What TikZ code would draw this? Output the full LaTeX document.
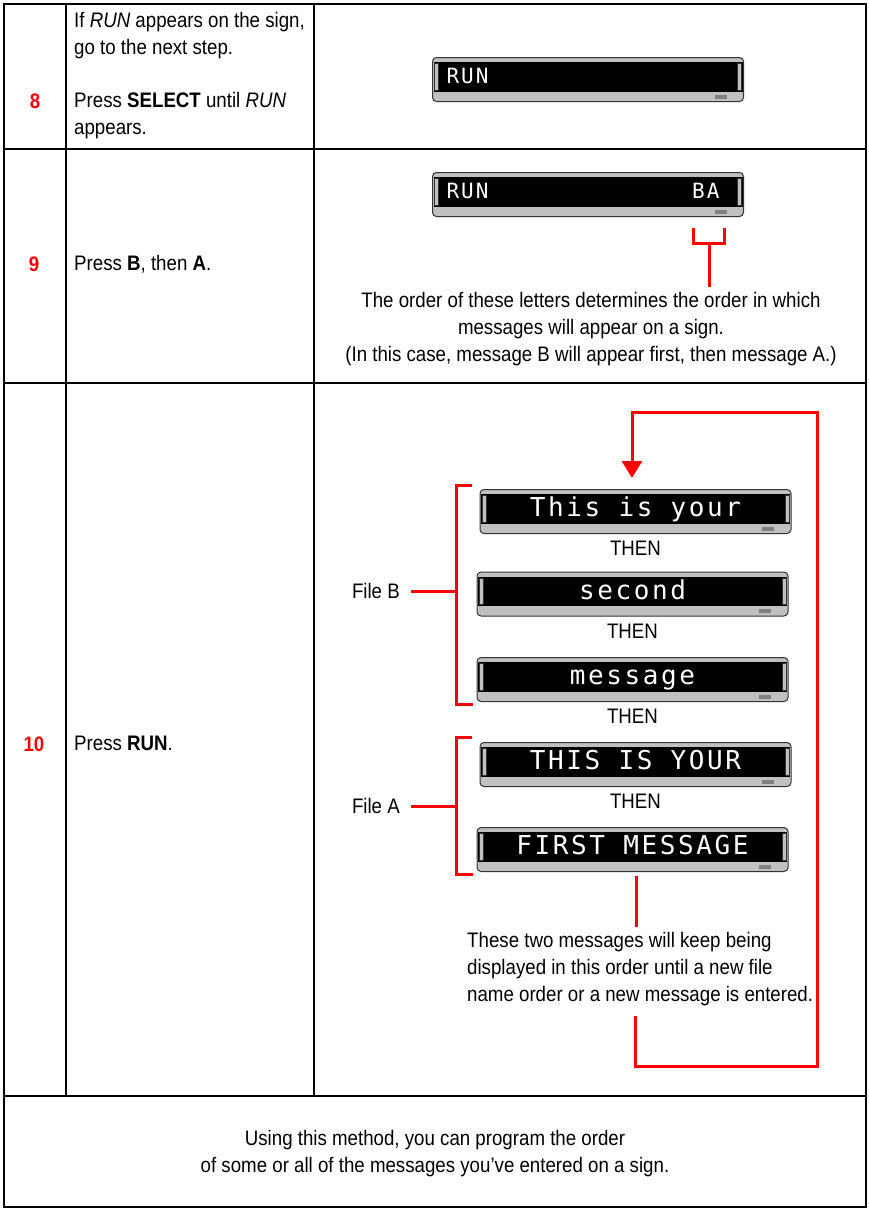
\documentclass[tikz,border=0pt]{standalone}
\usepackage{fontspec}
\setmainfont{Liberation Sans}[FakeStretch=0.89]
\newfontfamily\ledfont{DejaVu Sans Mono}[LetterSpace=10]
\newcommand\ledsp{\hspace*{0.702em}}
\usetikzlibrary{arrows.meta, positioning, calc}
\definecolor{cRed}{RGB}{255,0,0}
\definecolor{cPanel}{RGB}{192,192,192}
\definecolor{cLamp}{RGB}{128,128,128}
\tikzset{
	tableline/.style={line width=2.5pt, draw=black},
	redline/.style={draw=cRed, line width=3pt},
	stepnum/.style={inner sep=0pt, text=cRed, font=\bfseries\fontsize{21}{27}\selectfont},
	body/.style={inner sep=0pt, align=left},
	% sign helpers
	ledsign/.style={rectangle, rounded corners=4pt, draw=black!80, line width=1pt, fill=cPanel,
		minimum width=311pt, minimum height=44pt, text width=283pt, inner xsep=14pt, inner ysep=0pt, text=white,
		path picture={
			\fill[black, sharp corners] ([xshift=1pt,yshift=-4.5pt]path picture bounding box.north west) rectangle ([xshift=-1pt,yshift=10pt]path picture bounding box.south east);
			\filldraw[cPanel, draw=black!80, line width=0.5pt, sharp corners] ([xshift=2pt,yshift=-6pt]path picture bounding box.north west) rectangle ([xshift=6pt,yshift=11.5pt]path picture bounding box.south west);
			\filldraw[cPanel, draw=black!80, line width=0.5pt, sharp corners] ([xshift=-6pt,yshift=-6pt]path picture bounding box.north east) rectangle ([xshift=-2pt,yshift=11.5pt]path picture bounding box.south east);
			\fill[cLamp, sharp corners] ([xshift=-29pt,yshift=3pt]path picture bounding box.south east) rectangle ([xshift=-17pt,yshift=7pt]path picture bounding box.south east);
		}},
	bigled/.style={font=\ledfont\fontsize{26}{26}\selectfont, align=center, text height=10pt, text depth=0pt},
	smallled/.style={font=\ledfont\fontsize{21}{21}\selectfont, align=left, text height=7pt, text depth=0pt},
}

\begin{document}
\begin{tikzpicture}[x=1pt, y=-1pt, font=\fontsize{21}{27}\selectfont,
		thenlbl/.style={inner sep=0pt},
		filelbl/.style={inner sep=0pt, anchor=east}]
	\useasboundingbox (0,0) rectangle (869,1210);
	% table
	\draw[tableline] (4,4) rectangle (866,1207);
	\draw[tableline] (4,149) -- (866,149) (4,383) -- (866,383) (4,1096) -- (866,1096);
	\draw[tableline] (66,4) -- (66,1096) (314,4) -- (314,1096);

	% step 8
	\node[stepnum] (n8) at (35,101) {8};
	\node[body, anchor=north west] (t8) at (74,12) {If \textit{RUN} appears on the sign,\\go to the next step.\\[26pt]Press \textbf{SELECT} until \textit{RUN}\\appears.};
	\node[ledsign, smallled] (run) at (588,79.5) {RUN};

	% step 9
	\node[stepnum] (n9) at (34,264) {9};
	\node[body, anchor=west] (t9) at (74,264) {Press \textbf{B}, then \textbf{A}.};
	\node[ledsign, smallled] (runba) at (588,194.5) {RUN\hfill BA\hspace*{10pt}};
	\node[body, align=center] (note9) at (591,329) {The order of these letters determines the order in which\\messages will appear on a sign.\\(In this case, message B will appear first, then message A.)};
	\coordinate (ba) at (709,243);
	\draw[redline] (693,228) |- (ba) -| (724,228);
	\draw[redline] (ba) -- ([yshift=5pt]note9.north -| ba);

	% step 10
	\node[stepnum] (n10) at (34,744) {10};
	\node[body, anchor=west] (t10) at (74,743) {Press \textbf{RUN}.};
	\node[ledsign, bigled] (s1) at (635.5,511.5) {This\ledsp is\ledsp your};
	\node[thenlbl, below=7pt of s1] (th1) {THEN};
	\node[ledsign, bigled] (s2) at (632.5,594) {second};
	\node[thenlbl, below=7pt of s2] (th2) {THEN};
	\node[ledsign, bigled] (s3) at (632.5,679.5) {message};
	\node[thenlbl, below=7pt of s3] (th3) {THEN};
	\node[ledsign, bigled] (s4) at (635.5,764.5) {THIS\ledsp IS\ledsp YOUR};
	\node[thenlbl, below=7pt of s4] (th4) {THEN};
	\node[ledsign, bigled] (s5) at (632.5,849.5) {FIRST\ledsp MESSAGE};

	% file brackets
	\node[filelbl] (fb) at (400,591) {File B};
	\node[filelbl] (fa) at (400,806) {File A};
	\draw[redline] (472,485) -| (456,704) -- (473,704);
	\draw[redline] (472,737) -| (456,874) -- (473,874);
	\draw[redline] ([xshift=11pt]fb.east) -- (456,591);
	\draw[redline] ([xshift=11pt]fa.east) -- (456,806);

	% loop back
	\node[body, anchor=north west] (note10) at (467,932) {These two messages will keep being\\displayed in this order until a new file\\name order or a new message is entered.};
	\draw[redline] ([xshift=4pt,yshift=-4pt]s5.south) -- ++(0,51);
	\coordinate (lb) at (635,1016);
	\coordinate (rb) at (817,1066);
	\coordinate (rt) at (817,412);
	\draw[redline, -{Triangle[width=20pt,length=17pt]}] (lb) |- (rb) -- (rt) -| ([xshift=-3.5pt,yshift=11pt]s1.north);

	% closing row
	\node[body, align=center] (close) at (435,1154) {Using this method, you can program the order\\of some or all of the messages you’ve entered on a sign.};
\end{tikzpicture}
\end{document}
